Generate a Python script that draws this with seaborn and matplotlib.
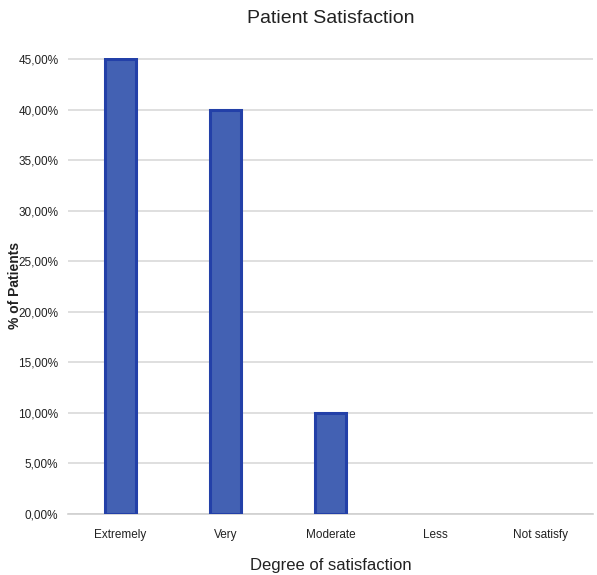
import seaborn as sns
import pandas as pd
import matplotlib.pyplot as plt
from matplotlib.ticker import FuncFormatter

categories = ["Extremely", "Very", "Moderate", "Less", "Not satisfy"]
percent = [45.0, 40.0, 10.0, 0.0, 0.0]
yticks = [0, 5, 10, 15, 20, 25, 30, 35, 40, 45]

df = pd.DataFrame({"degree": categories, "pct": percent})

sns.set_style("white")
plt.rcParams['font.family'] = ['Liberation Sans', 'DejaVu Sans']

fig = plt.figure(figsize=(5.97, 5.75), dpi=100)
ax = fig.add_axes([0.114, 0.106, 0.879, 0.793])

sns.barplot(data=df, x="degree", y="pct", order=categories, ax=ax,
            color="#4361b3", edgecolor="#2340a8", linewidth=2.2, width=0.3,
            saturation=1, zorder=3)
# empty categories get no outline
for bar, v in zip(ax.patches, percent):
    if v == 0:
        bar.set_linewidth(0)

ax.set_ylim(0, 45.1)
ax.set_xlim(-0.5, 4.5)
ax.set_yticks(yticks)
ax.yaxis.set_major_formatter(FuncFormatter(lambda v, p: ("%.2f%%" % v).replace(".", ",")))
ax.grid(axis='y', color="#d9d9d9", linewidth=1.2, zorder=0)
for s in ["top", "right", "left"]:
    ax.spines[s].set_visible(False)
ax.spines["bottom"].set_color("#d0d0d0")
ax.spines["bottom"].set_linewidth(1.2)
ax.tick_params(axis='both', length=0, labelsize=8.5, colors="#222222", pad=7)
ax.tick_params(axis='x', pad=11)

ax.set_xlabel("Degree of satisfaction", fontsize=12, color="#222222", labelpad=12)
ax.set_ylabel("")
fig.text(0.025, 0.504, "% of Patients", rotation=90, ha="center", va="center",
         fontsize=10, fontweight="bold", color="#222222")
ax.set_title("Patient Satisfaction", fontsize=14, color="#222222", pad=25)

fig.savefig("out.png", dpi=100)
